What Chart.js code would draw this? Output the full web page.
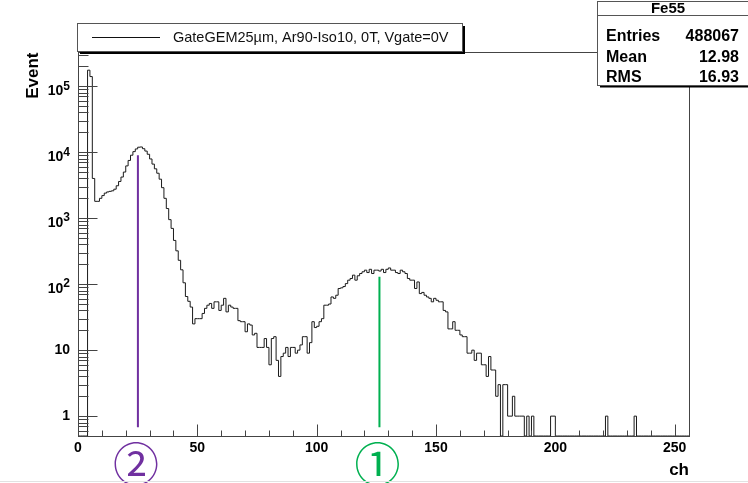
<!DOCTYPE html>
<html>
<head>
  <meta charset="UTF-8">
  <title>Fe55</title>
  <script src="https://cdn.jsdelivr.net/npm/chart.js"></script>
  <style>
    body {
      margin: 0;
      background: #fff;
    }
    #wrap {
      width: 748px;
      height: 483px;
    }
  </style>
</head>
<body>

  <div id="wrap"><canvas id="hist" width="748" height="483"></canvas></div>

  <script>
    // counts per channel, ch 0..255
    const counts = [
      0, 0, 0, 0, 175000, 140000, 4000, 1800, 1800, 2000,
      2200, 2400, 2500, 2550, 2600, 2750, 3100, 3600, 4200, 5000,
      6200, 7500, 9000, 10200, 11200, 11900, 12000, 11300, 10400, 9300,
      7900, 6600, 5600, 4800, 3900, 2900, 2000, 1400, 950, 700,
      460, 320, 230, 165, 105, 65, 55, 45, 25, 30,
      30, 30, 36, 43, 48, 51, 43, 54, 54, 40,
      48, 61, 38, 48, 45, 43, 43, 28, 27, 27,
      19, 25, 24, 17, 18, 11, 11, 11, 15, 11,
      6, 15, 16, 7, 4, 8, 9, 11, 8, 11,
      11, 9, 10, 12, 16, 16, 9, 13, 27, 22,
      23, 27, 30, 48, 48, 50, 64, 61, 68, 86,
      88, 92, 102, 115, 122, 137, 115, 134, 145, 154,
      163, 150, 168, 145, 163, 163, 158, 168, 150, 168,
      176, 163, 163, 150, 145, 163, 154, 145, 122, 115,
      115, 86, 108, 72, 75, 68, 64, 61, 54, 61,
      57, 54, 54, 40, 38, 21, 21, 27, 20, 20,
      17, 16, 16, 9, 9, 10, 7, 9, 9, 6,
      6, 4, 8, 5, 5, 2, 3, 0, 3, 3,
      1, 1, 2, 1, 1, 1, 1, 0, 1, 0,
      1, 0, 0, 0, 0, 0, 0, 0, 1, 1,
      0, 0, 0, 0, 0, 0, 0, 0, 0, 0,
      0, 0, 0, 0, 0, 0, 0, 0, 0, 0,
      0, 1, 0, 0, 0, 0, 0, 0, 0, 0,
      0, 0, 0, 1, 0, 0, 0, 0, 0, 0,
      0, 0, 0, 0, 0, 0, 0, 0, 0, 0,
      0, 0, 0, 0, 0, 0
    ];
    const nBins = 256;
    const xTicks = [0, 50, 100, 150, 200, 250];
    const yTicks = [1, 10, 100, 1000, 10000, 100000];
    const yMin = 0.5;
    const yMax = 3.3e5;

    // the two peak markers
    const markerCh = [25.1, 126.3];
    const markerTop = [9000, 130];
    const markerLow = 0.68;
    const markerText = ['②', '①'];
    const markerColor = ['#7030a0', '#00b050'];

    const legendText = 'GateGEM25\u00b5m, Ar90-Iso10, 0T, Vgate=0V';
    const statsTitle = 'Fe55';
    const statsNames = ['Entries', 'Mean', 'RMS'];
    const statsValues = ['488067', '12.98', '16.93'];

    const SANS = '"Liberation Sans", Arial, Helvetica, sans-serif';

    function line(ctx, x1, y1, x2, y2) {
      ctx.beginPath();
      ctx.moveTo(x1, y1);
      ctx.lineTo(x2, y2);
      ctx.stroke();
    }

    const decor = {
      id: 'decor',
      beforeDraw(chart) {
        const ctx = chart.ctx;
        ctx.save();
        ctx.fillStyle = '#fff';
        ctx.fillRect(0, 0, chart.width, chart.height);
        ctx.restore();
      },
      afterDraw(chart) {
        const { ctx, chartArea: a, scales: { x, y } } = chart;
        const L = Math.round(a.left) + 0.5, R = Math.round(a.right) + 0.5;
        const T = Math.round(a.top) + 0.5, B = Math.round(a.bottom) + 0.5;
        ctx.save();

        // frame
        ctx.strokeStyle = '#444';
        ctx.lineWidth = 1;
        ctx.strokeRect(L, T, R - L, B - T);

        // y ticks (inside), log minor ticks
        for (let d = -1; d <= 5; d++) {
          for (let k = 1; k <= 9; k++) {
            const v = k * Math.pow(10, d);
            if (v < yMin || v > yMax) continue;
            const py = Math.round(y.getPixelForValue(v)) + 0.5;
            line(ctx, L, py, L + (k === 1 ? 19 : 10), py);
          }
        }
        // x ticks (inside)
        for (let v = 0; v <= nBins; v += 10) {
          const px = Math.round(x.getPixelForValue(v)) + 0.5;
          line(ctx, px, B, px, B - (v % 50 === 0 ? 12 : 6));
        }

        ctx.fillStyle = '#000';
        // x tick labels
        ctx.font = 'bold 14px ' + SANS;
        ctx.textAlign = 'center';
        ctx.textBaseline = 'middle';
        xTicks.forEach(v => ctx.fillText(String(v), x.getPixelForValue(v), 448));

        // y tick labels, 10^n with raised exponent
        yTicks.forEach(v => {
          const py = y.getPixelForValue(v);
          const e = Math.round(Math.log10(v));
          ctx.textAlign = 'right';
          ctx.textBaseline = 'middle';
          if (e <= 1) {
            ctx.font = 'bold 14px ' + SANS;
            ctx.fillText(String(v), 70, py);
          } else {
            ctx.font = 'bold 12px ' + SANS;
            const ew = ctx.measureText(String(e)).width;
            ctx.fillText(String(e), 70, py);
            ctx.font = 'bold 14px ' + SANS;
            ctx.fillText('10', 70 - ew, py + 5);
          }
        });

        // axis titles
        ctx.font = 'bold 17px ' + SANS;
        ctx.textAlign = 'right';
        ctx.textBaseline = 'alphabetic';
        ctx.fillText('ch', R - 0.5, 475);
        ctx.save();
        ctx.translate(38, T);
        ctx.rotate(-Math.PI / 2);
        ctx.fillText('Event', 0, 0);
        ctx.restore();

        // peak markers below the axis
        ctx.font = '46px "Noto Sans CJK JP", "DejaVu Sans", serif';
        ctx.textAlign = 'center';
        ctx.textBaseline = 'middle';
        markerCh.forEach((c, i) => {
          ctx.fillStyle = markerColor[i];
          ctx.fillText(markerText[i], x.getPixelForValue(c) - 2, 464);
        });

        // legend box
        ctx.fillStyle = '#000';
        ctx.fillRect(80, 51, 385, 3);
        ctx.fillRect(462, 26, 3, 28);
        ctx.fillStyle = '#fff';
        ctx.fillRect(77.5, 23.5, 385, 28);
        ctx.strokeStyle = '#555';
        ctx.strokeRect(77.5, 23.5, 385, 28);
        ctx.strokeStyle = '#111';
        line(ctx, 92, 37.5, 160, 37.5);
        ctx.fillStyle = '#111';
        ctx.font = '14.5px ' + SANS;
        ctx.textAlign = 'left';
        ctx.textBaseline = 'middle';
        ctx.fillText(legendText, 173, 38);

        // stats box
        ctx.fillStyle = '#000';
        ctx.fillRect(600, 85, 150, 2.5);
        ctx.fillStyle = '#fff';
        ctx.fillRect(597.5, 1.5, 160, 84);
        ctx.strokeStyle = '#555';
        ctx.strokeRect(597.5, 1.5, 160, 84);
        line(ctx, 597.5, 15.5, 748, 15.5);
        ctx.fillStyle = '#000';
        ctx.font = 'bold 15px ' + SANS;
        ctx.textAlign = 'center';
        ctx.fillText(statsTitle, 668, 8.5);
        ctx.font = 'bold 16px ' + SANS;
        statsNames.forEach((n, i) => {
          const ry = 37 + i * 20.3;
          ctx.textAlign = 'left';
          ctx.fillText(n, 606, ry);
          ctx.textAlign = 'right';
          ctx.fillText(statsValues[i], 739, ry);
        });

        // faint page edge at the bottom
        ctx.strokeStyle = '#e2e2e2';
        line(ctx, 0, 481.5, 748, 481.5);

        ctx.restore();
      }
    };

    const histPoints = counts.map((v, i) => ({ x: i, y: v > 0 ? v : yMin }));
    histPoints.push({ x: nBins, y: counts[nBins - 1] > 0 ? counts[nBins - 1] : yMin });

    const markerSets = markerCh.map((c, i) => ({
      data: [{ x: c, y: markerTop[i] }, { x: c, y: markerLow }],
      borderColor: markerColor[i],
      borderWidth: 2,
      pointRadius: 0
    }));

    const ctx = document.getElementById('hist').getContext('2d');
    const chart = new Chart(ctx, {
      type: 'line',
      data: {
        datasets: [{
          data: histPoints,
          stepped: true,
          borderColor: '#1a1a1a',
          borderWidth: 1,
          pointRadius: 0,
          fill: false
        }, ...markerSets]
      },
      options: {
        responsive: false,
        animation: false,
        devicePixelRatio: 1,
        layout: { padding: { left: 78, right: 59, top: 52, bottom: 47 } },
        plugins: {
          legend: { display: false },
          tooltip: { enabled: false }
        },
        scales: {
          x: { type: 'linear', min: 0, max: nBins, display: false },
          y: { type: 'logarithmic', min: yMin, max: yMax, display: false }
        }
      },
      plugins: [decor]
    });
  </script>

</body>
</html>
